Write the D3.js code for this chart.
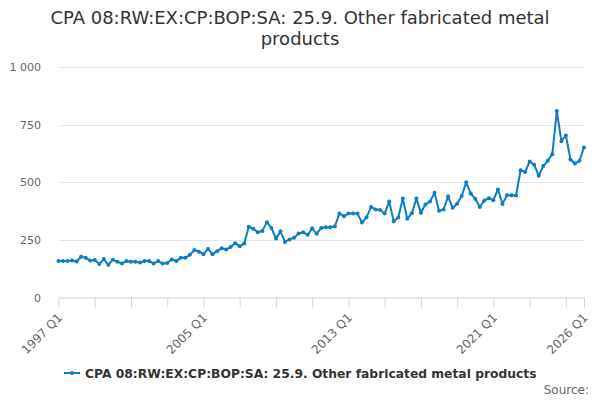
<!DOCTYPE html>
<html>
<head>
<meta charset="utf-8">
<script src="https://cdn.jsdelivr.net/npm/d3@7"></script>
<style>
  body { margin: 0; background: #fff; }
  svg { font-family: "DejaVu Sans", sans-serif; }
</style>
</head>
<body>
<div id="chart-area"></div>
<script>
// quarterly series, 1997 Q1 .. 2026 Q1
var startYear = 1997;
var values = [
  158, 158, 158, 160, 156, 177, 172, 160, 163, 145, 167, 142, 164, 155, 148, 158,
  155, 155, 152, 158, 158, 148, 158, 147, 150, 165, 158, 172, 172, 185, 206, 199,
  188, 210, 188, 201, 214, 208, 219, 235, 222, 234, 307, 298, 283, 289, 327, 302,
  256, 287, 241, 252, 259, 278, 283, 272, 300, 277, 302, 305, 305, 308, 364, 353,
  364, 364, 364, 325, 348, 393, 382, 380, 364, 416, 331, 347, 429, 342, 365, 429,
  368, 404, 416, 454, 376, 382, 439, 389, 407, 440, 500, 451, 428, 393, 421, 431,
  422, 469, 406, 444, 444, 443, 552, 544, 590, 576, 528, 570, 593, 622, 809, 678,
  703, 599, 581, 593, 651
];
var quarters = values.map(function(d, i) {
    return (startYear + Math.floor(i / 4)) + " Q" + (i % 4 + 1);
});
var yTicks = [0, 250, 500, 750, 1000];
var labelQuarters = ["1997 Q1", "2005 Q1", "2013 Q1", "2021 Q1", "2026 Q1"];
var seriesName = "CPA 08:RW:EX:CP:BOP:SA: 25.9. Other fabricated metal products";
var titleText = "CPA 08:RW:EX:CP:BOP:SA: 25.9. Other fabricated metal products";

var width = 600, height = 400;
var margin = {top: 67, right: 16, bottom: 102.5, left: 58.5};
var lineColor = "#0e7dc2";

var svg = d3.select("#chart-area")
    .append("svg")
    .attr("width", width)
    .attr("height", height);

// title, wrapped to two lines
var title = svg.append("text")
    .attr("x", width / 2)
    .attr("y", 24)
    .attr("text-anchor", "middle")
    .style("font-size", "18px")
    .style("fill", "#333");

var words = titleText.split(" "), line = [];
var tspan = title.append("tspan").attr("x", width / 2).attr("dy", 0);
words.forEach(function(w) {
    line.push(w);
    tspan.text(line.join(" "));
    if (tspan.node().getComputedTextLength() > 540 && line.length > 1) {
        line.pop();
        tspan.text(line.join(" "));
        line = [w];
        tspan = title.append("tspan").attr("x", width / 2).attr("dy", "21").text(w);
    }
});

var x = d3.scalePoint()
    .domain(quarters)
    .range([margin.left, width - margin.right]);

var y = d3.scaleLinear()
    .domain([0, 1000])
    .range([height - margin.bottom, margin.top]);

// gridlines
svg.append("g")
    .selectAll("line")
    .data(yTicks.slice(1))
    .enter().append("line")
    .attr("x1", margin.left)
    .attr("x2", width - margin.right)
    .attr("y1", function(d) { return Math.round(y(d)) + 0.5; })
    .attr("y2", function(d) { return Math.round(y(d)) + 0.5; })
    .style("stroke", "#e6e6e6")
    .style("stroke-width", 1);

// y labels
var fmt = function(d) { return d3.format(",")(d).replace(/,/g, " "); };
svg.append("g")
    .selectAll("text")
    .data(yTicks)
    .enter().append("text")
    .attr("x", 41)
    .attr("y", function(d) { return y(d) + 4; })
    .attr("text-anchor", "end")
    .style("font-size", "11px")
    .style("fill", "#666")
    .text(fmt);

// x axis
var tickQuarters = quarters.filter(function(d, i) {
    return i % 8 === 0 || i === quarters.length - 1;
});
var xAxis = d3.axisBottom(x)
    .tickValues(tickQuarters)
    .tickSize(10)
    .tickSizeOuter(0)
    .tickFormat(function(d) { return labelQuarters.indexOf(d) >= 0 ? d : ""; });

var gx = svg.append("g")
    .attr("transform", "translate(0," + (height - margin.bottom) + ")")
    .call(xAxis);
gx.select(".domain").style("stroke", "#ccd6eb");
gx.selectAll(".tick line").style("stroke", "#ccd6eb");
gx.selectAll(".tick text")
    .attr("x", 0)
    .attr("y", 0)
    .attr("dy", "0.35em")
    .attr("transform", "translate(1,18) rotate(-45)")
    .attr("text-anchor", "end")
    .style("font-size", "12px")
    .style("font-family", "DejaVu Sans, sans-serif")
    .style("fill", "#666");

// series line
var lineGen = d3.line()
    .x(function(d, i) { return x(quarters[i]); })
    .y(function(d) { return y(d); });

svg.append("path")
    .datum(values)
    .attr("d", lineGen)
    .style("fill", "none")
    .style("stroke", lineColor)
    .style("stroke-width", 2)
    .style("stroke-linejoin", "round");

svg.append("g")
    .selectAll("circle")
    .data(values)
    .enter().append("circle")
    .attr("cx", function(d, i) { return x(quarters[i]); })
    .attr("cy", function(d) { return y(d); })
    .attr("r", 2)
    .style("fill", lineColor);

// legend
var legend = svg.append("g").attr("transform", "translate(0,373)");
legend.append("line")
    .attr("x1", 64).attr("x2", 80)
    .attr("y1", 0).attr("y2", 0)
    .style("stroke", lineColor)
    .style("stroke-width", 2);
legend.append("circle")
    .attr("cx", 72).attr("cy", 0).attr("r", 2)
    .style("fill", lineColor);
legend.append("text")
    .attr("x", 85)
    .attr("y", 4.5)
    .style("font-size", "12.3px")
    .style("font-weight", "bold")
    .style("fill", "#333")
    .text(seriesName);

// credits
svg.append("text")
    .attr("x", 589)
    .attr("y", 394)
    .attr("text-anchor", "end")
    .style("font-size", "12px")
    .style("fill", "#666")
    .text("Source:");
</script>
</body>
</html>
